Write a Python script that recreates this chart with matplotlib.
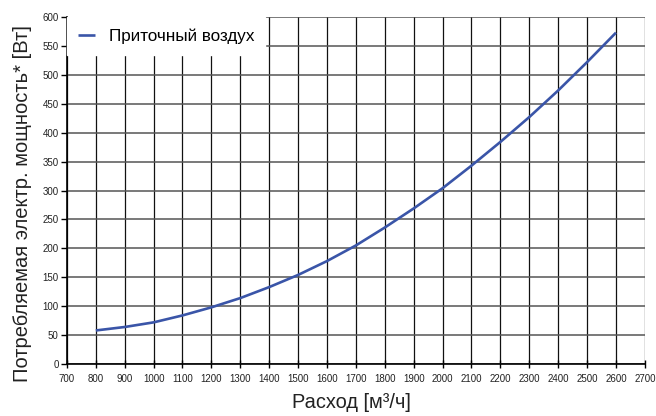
import matplotlib
matplotlib.use("Agg")
import matplotlib.pyplot as plt

# расход, м3/ч
flow = [800, 900, 1000, 1100, 1200, 1300, 1400, 1500, 1600, 1700,
        1800, 1900, 2000, 2100, 2200, 2300, 2400, 2500, 2600]
# потребляемая мощность, Вт
power = [58, 64, 72, 84, 98, 114, 133, 154, 178, 205,
         236, 269, 304, 343, 384, 427, 473, 522, 573]

x_ticks = list(range(700, 2701, 100))
y_ticks = list(range(0, 601, 50))

plt.rcParams['font.family'] = ['Liberation Sans', 'DejaVu Sans']

fig = plt.figure(figsize=(6.56, 4.16), dpi=100)
ax = fig.add_axes([0.102, 0.125, 0.881, 0.834])

ax.plot(flow, power, color='#3a55a8', linewidth=1.9, label='Приточный воздух',
        zorder=3, solid_capstyle='butt')

ax.set_xlim(700, 2700)
ax.set_ylim(0, 600)
ax.set_xticks(x_ticks)
ax.set_yticks(y_ticks)
ax.tick_params(axis='x', direction='inout', length=6, width=1, labelsize=7,
               pad=4, labelcolor='#222222')
ax.tick_params(axis='y', direction='out', length=4, width=1, labelsize=7,
               pad=2, labelcolor='#222222')

ax.grid(True, axis='x', color='#111111', linewidth=0.9)
ax.grid(True, axis='y', color='#555555', linewidth=1.1)
ax.set_axisbelow(True)

for side in ['top', 'right']:
    ax.spines[side].set_visible(False)
ax.spines['left'].set_linewidth(1.2)
ax.spines['bottom'].set_linewidth(1.2)

ax.set_xlabel('Расход [м³/ч]', fontsize=14.4, color='#222222')
ax.set_ylabel('Потребляемая электр. мощность* [Вт]', fontsize=14.5,
              color='#222222')
ax.xaxis.set_label_coords(0.493, -0.085)
ax.yaxis.set_label_coords(-0.06, 0.461)

leg = ax.legend(loc='upper left', fontsize=12.3, frameon=True, fancybox=False,
                handlelength=1.0, handletextpad=0.8, borderaxespad=0.0,
                borderpad=0.65)
leg.get_frame().set_edgecolor('white')
leg.get_frame().set_facecolor('white')
leg.get_frame().set_alpha(1)
leg.set_zorder(5)

fig.savefig('out.png', dpi=100)
